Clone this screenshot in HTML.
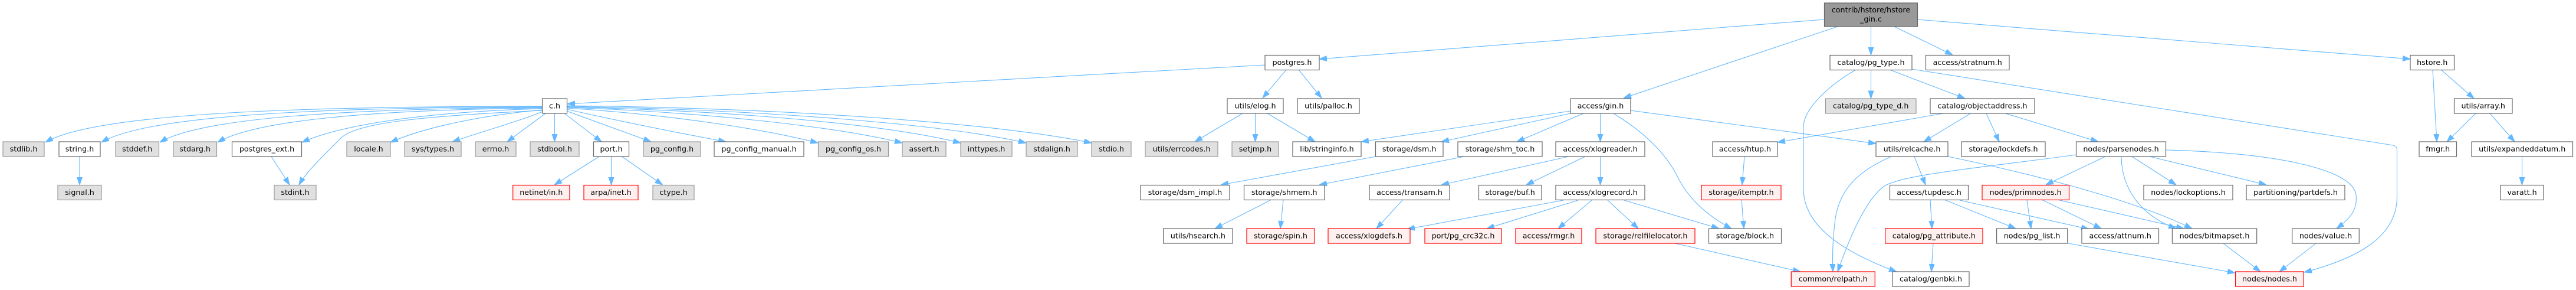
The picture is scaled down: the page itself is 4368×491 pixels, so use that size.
<!DOCTYPE html>
<html><head><meta charset="utf-8">
<style>
html,body{margin:0;padding:0;background:#fff;}
svg{display:block;}
text{font-family:"DejaVu Sans","Liberation Sans",sans-serif;font-size:12.7px;fill:#000;text-anchor:middle;}
.w{fill:#fff;stroke:#666;stroke-width:1.2;}
.g{fill:#e0e0e0;stroke:#999;stroke-width:1.2;}
.r{fill:#fff0f0;stroke:#f00;stroke-width:1.2;}
.t{fill:#999;stroke:#666;stroke-width:1.2;}
.e path{fill:none;stroke:#63b8ff;stroke-width:1.1;marker-end:url(#ah);}
</style></head>
<body>
<svg width="4368" height="491" viewBox="0 0 4368 491" xmlns="http://www.w3.org/2000/svg">
<defs>
<marker id="ah" markerUnits="userSpaceOnUse" markerWidth="13" markerHeight="10" refX="13" refY="5" orient="auto">
<path d="M0,0.5 L13,5 L0,9.5 z" fill="#63b8ff" stroke="#63b8ff" stroke-width="1"/>
</marker>
</defs>
<rect width="4368" height="491" fill="#fff"/>
<g class="e">
<path d="M3093,33 L2237,100"/>
<path d="M3116,45 L2753,166"/>
<path d="M3172.5,45 L3172.5,93"/>
<path d="M3212,45 L3311,93"/>
<path d="M3251,33 L4087,100"/>
<path d="M2145,110 L962,176"/>
<path d="M2181,118 L2141,166"/>
<path d="M2202,118 L2241,166"/>
<path d="M919,180 C500,180 160,192 77,241"/>
<path d="M919,181 C540,182 250,195 172,241"/>
<path d="M919,182 C580,184 340,200 271,241"/>
<path d="M919,183 C620,186 430,205 369,241"/>
<path d="M919,184 C700,190 570,215 512,241"/>
<path d="M919,187 C750,195 610,205 580,232 C550,262 520,290 507,313"/>
<path d="M919,186 C820,195 720,215 662,241"/>
<path d="M920,189 C880,205 820,222 767,240"/>
<path d="M925,192 L860,240"/>
<path d="M940.5,192 L940.5,240"/>
<path d="M957,192 L1020,240"/>
<path d="M961,188 L1104,240"/>
<path d="M961,185 C1050,205 1150,225 1231,240"/>
<path d="M961,183 C1150,195 1300,220 1387,242"/>
<path d="M961,182 C1200,190 1420,215 1530,242"/>
<path d="M961,181 C1250,188 1500,210 1629,242"/>
<path d="M961,180 C1300,186 1600,210 1740,242"/>
<path d="M961,179 C1350,183 1700,210 1851,242"/>
<path d="M135,265 L135,313"/>
<path d="M460,265 L491,313"/>
<path d="M1016,265 L940,313"/>
<path d="M1036.5,265 L1036.5,313"/>
<path d="M1054.5,265 L1123.5,313"/>
<path d="M2107,192 L2026,240"/>
<path d="M2128.5,192 L2128.5,240"/>
<path d="M2149,192 L2230,240"/>
<path d="M2663,188 L2308,240"/>
<path d="M2663,192 L2444,240"/>
<path d="M2685,192 L2572,240"/>
<path d="M2713.5,192 L2713.5,240"/>
<path d="M2737,193 C2790,225 2825,260 2845,300 C2865,340 2900,368 2936,387"/>
<path d="M2765,187 L3181,243"/>
<path d="M2333,265 L2070,313"/>
<path d="M2483,265 L2237,313"/>
<path d="M2154,339 L2060,387"/>
<path d="M2176,339 L2171,387"/>
<path d="M2660,265 L2444,313"/>
<path d="M2688,265 L2588,313"/>
<path d="M2713.5,265 L2713.5,313"/>
<path d="M2378,339 L2334,387"/>
<path d="M2651,339 L2386,388"/>
<path d="M2676,339 L2521,387"/>
<path d="M2699,339 L2642,387"/>
<path d="M2726,339 L2778,387"/>
<path d="M2754,339 L2915,387"/>
<path d="M2840,412 L3053,460"/>
<path d="M3172.5,118 L3172.5,166.7"/>
<path d="M3204,118 L3332,166.7"/>
<path d="M3147,118 C3100,145 3058,185 3058,215 L3058,320 C3058,380 3120,425 3216,460"/>
<path d="M3242,117 L4058,246 C4062,247 4064.5,249 4064.5,254 L4064.5,333 C4064.5,400 4000,437 3907,461"/>
<path d="M3295,192 L3014,241"/>
<path d="M3341.5,192 L3262,240"/>
<path d="M3368,192 L3390,240"/>
<path d="M3400.5,192 L3558,240"/>
<path d="M2958,265 L2954,313"/>
<path d="M2953,338 L2957,387"/>
<path d="M3207,265 C3150,290 3120,320 3112,370 C3107,410 3107,440 3108,460"/>
<path d="M3246,265 L3265,313"/>
<path d="M3303,265 C3400,285 3600,330 3717,387"/>
<path d="M3521,262 C3350,285 3230,295 3195,315 C3160,340 3130,420 3116,460"/>
<path d="M3570,265 L3469,313"/>
<path d="M3597,266 C3598,320 3630,365 3690,387"/>
<path d="M3615,265 L3690,313"/>
<path d="M3645,265 L3843,313"/>
<path d="M3672,254 C3850,258 3990,285 3995,330 C3998,355 3985,370 3962,387"/>
<path d="M3273,339 L3276,387"/>
<path d="M3299,339 L3418,387"/>
<path d="M3323,339 L3542,388"/>
<path d="M3437,339 L3444,387"/>
<path d="M3462,338 L3563,387"/>
<path d="M3488,338 L3703,387"/>
<path d="M3278,412 L3275,460"/>
<path d="M3507,412 L3790,462"/>
<path d="M3770,412 L3833,460"/>
<path d="M3927,412 L3865,460"/>
<path d="M4125,118 L4132,240"/>
<path d="M4139,118 L4195,166.7"/>
<path d="M4198,192 L4149,240"/>
<path d="M4222,192 L4264,240"/>
<path d="M4276.5,265 L4276.5,313"/>
</g>

<!-- Row 0 -->
<rect class="t" x="3093.5" y="5" width="158" height="40"/>
<text x="3172.5" y="21">contrib/hstore/hstore</text>
<text x="3172.5" y="36.5">_gin.c</text>

<!-- Row 1 -->
<rect class="w" x="2145" y="93.5" width="92" height="25"/><text x="2191" y="110">postgres.h</text>
<rect class="w" x="3103" y="93.5" width="139" height="25"/><text x="3172.5" y="110">catalog/pg_type.h</text>
<rect class="w" x="3265.5" y="93.5" width="141.5" height="25"/><text x="3336.2" y="110">access/stratnum.h</text>
<rect class="w" x="4087" y="93.5" width="74.5" height="25"/><text x="4124.2" y="110">hstore.h</text>

<!-- Row 2 -->
<rect class="w" x="919.5" y="167" width="42" height="25"/><text x="940.5" y="183.5">c.h</text>
<rect class="w" x="2081" y="167" width="95" height="25"/><text x="2128.5" y="183.5">utils/elog.h</text>
<rect class="w" x="2200" y="167" width="105" height="25"/><text x="2252.5" y="183.5">utils/palloc.h</text>
<rect class="w" x="2663" y="167" width="102" height="25"/><text x="2714" y="183.5">access/gin.h</text>
<rect class="g" x="3095.5" y="167" width="153.5" height="25"/><text x="3172.2" y="183.5">catalog/pg_type_d.h</text>
<rect class="w" x="3273" y="167" width="177" height="25"/><text x="3361.5" y="183.5">catalog/objectaddress.h</text>
<rect class="w" x="4161.5" y="167" width="98.5" height="25"/><text x="4210.7" y="183.5">utils/array.h</text>

<!-- Row 3 -->
<rect class="g" x="5" y="240" width="70" height="25"/><text x="40" y="256.5">stdlib.h</text>
<rect class="w" x="100" y="240" width="70" height="25"/><text x="135" y="256.5">string.h</text>
<rect class="g" x="196" y="240" width="73.5" height="25"/><text x="232.7" y="256.5">stddef.h</text>
<rect class="g" x="294" y="240" width="73.5" height="25"/><text x="330.7" y="256.5">stdarg.h</text>
<rect class="w" x="393.5" y="240" width="118" height="25"/><text x="452.5" y="256.5">postgres_ext.h</text>
<rect class="g" x="588" y="240" width="74" height="25"/><text x="625" y="256.5">locale.h</text>
<rect class="g" x="686" y="240" width="96" height="25"/><text x="734" y="256.5">sys/types.h</text>
<rect class="g" x="806" y="240" width="69" height="25"/><text x="840.5" y="256.5">errno.h</text>
<rect class="g" x="899" y="240" width="83" height="25"/><text x="940.5" y="256.5">stdbool.h</text>
<rect class="w" x="1006.5" y="240" width="60" height="25"/><text x="1036.5" y="256.5">port.h</text>
<rect class="g" x="1091" y="240" width="97" height="25"/><text x="1139.5" y="256.5">pg_config.h</text>
<rect class="w" x="1211" y="240" width="152" height="25"/><text x="1287" y="256.5">pg_config_manual.h</text>
<rect class="g" x="1387.5" y="240" width="119" height="25"/><text x="1447" y="256.5">pg_config_os.h</text>
<rect class="g" x="1530" y="240" width="74" height="25"/><text x="1567" y="256.5">assert.h</text>
<rect class="g" x="1629" y="240" width="87" height="25"/><text x="1672.5" y="256.5">inttypes.h</text>
<rect class="g" x="1740" y="240" width="87" height="25"/><text x="1783.5" y="256.5">stdalign.h</text>
<rect class="g" x="1851" y="240" width="67" height="25"/><text x="1884.5" y="256.5">stdio.h</text>
<rect class="g" x="1942" y="240" width="123" height="25"/><text x="2003.5" y="256.5">utils/errcodes.h</text>
<rect class="g" x="2089" y="240" width="79" height="25"/><text x="2128.5" y="256.5">setjmp.h</text>
<rect class="w" x="2192" y="240" width="116" height="25"/><text x="2250" y="256.5">lib/stringinfo.h</text>
<rect class="w" x="2332.5" y="240" width="114.5" height="25"/><text x="2389.7" y="256.5">storage/dsm.h</text>
<rect class="w" x="2472" y="240" width="143" height="25"/><text x="2543.5" y="256.5">storage/shm_toc.h</text>
<rect class="w" x="2638" y="240" width="151" height="25"/><text x="2713.5" y="256.5">access/xlogreader.h</text>
<rect class="w" x="2904" y="240" width="110" height="25"/><text x="2959" y="256.5">access/htup.h</text>
<rect class="w" x="3181" y="240" width="122" height="25"/><text x="3242" y="256.5">utils/relcache.h</text>
<rect class="w" x="3326" y="240" width="142" height="25"/><text x="3397" y="256.5">storage/lockdefs.h</text>
<rect class="w" x="3520.5" y="240" width="152" height="25"/><text x="3596.5" y="256.5">nodes/parsenodes.h</text>
<rect class="w" x="4102" y="240" width="63.5" height="25"/><text x="4133.7" y="256.5">fmgr.h</text>
<rect class="w" x="4191" y="240" width="171.5" height="25"/><text x="4276.7" y="256.5">utils/expandeddatum.h</text>

<!-- Row 4 -->
<rect class="g" x="98" y="313.5" width="74" height="25"/><text x="135" y="330">signal.h</text>
<rect class="g" x="465" y="313.5" width="71" height="25"/><text x="500.5" y="330">stdint.h</text>
<rect class="r" x="869.7" y="313.5" width="96.3" height="25"/><text x="917.8" y="330">netinet/in.h</text>
<rect class="r" x="990" y="313.5" width="92" height="25"/><text x="1036" y="330">arpa/inet.h</text>
<rect class="g" x="1107" y="313.5" width="70" height="25"/><text x="1142" y="330">ctype.h</text>
<rect class="w" x="1934" y="313.5" width="151" height="25"/><text x="2009.5" y="330">storage/dsm_impl.h</text>
<rect class="w" x="2109.5" y="313.5" width="136.5" height="25"/><text x="2177.7" y="330">storage/shmem.h</text>
<rect class="w" x="2322" y="313.5" width="136" height="25"/><text x="2390" y="330">access/transam.h</text>
<rect class="w" x="2507.5" y="313.5" width="106.5" height="25"/><text x="2560.7" y="330">storage/buf.h</text>
<rect class="w" x="2638" y="313.5" width="151" height="25"/><text x="2713.5" y="330">access/xlogrecord.h</text>
<rect class="r" x="2885" y="313.5" width="135" height="25"/><text x="2952.5" y="330">storage/itemptr.h</text>
<rect class="w" x="3204.5" y="313.5" width="133" height="25"/><text x="3271" y="330">access/tupdesc.h</text>
<rect class="r" x="3361" y="313.5" width="147.5" height="25"/><text x="3434.7" y="330">nodes/primnodes.h</text>
<rect class="w" x="3635" y="313.5" width="151" height="25"/><text x="3710.5" y="330">nodes/lockoptions.h</text>
<rect class="w" x="3809" y="313.5" width="167" height="25"/><text x="3892.5" y="330">partitioning/partdefs.h</text>
<rect class="w" x="4240" y="313.5" width="73" height="25"/><text x="4276.5" y="330">varatt.h</text>

<!-- Row 5 -->
<rect class="w" x="1972.6" y="387" width="117.4" height="25"/><text x="2031.3" y="403.5">utils/hsearch.h</text>
<rect class="r" x="2114" y="387" width="115" height="25"/><text x="2171.5" y="403.5">storage/spin.h</text>
<rect class="r" x="2252" y="387" width="139" height="25"/><text x="2321.5" y="403.5">access/xlogdefs.h</text>
<rect class="r" x="2416" y="387" width="130" height="25"/><text x="2481" y="403.5">port/pg_crc32c.h</text>
<rect class="r" x="2570" y="387" width="112" height="25"/><text x="2626" y="403.5">access/rmgr.h</text>
<rect class="r" x="2706" y="387" width="168" height="25"/><text x="2790" y="403.5">storage/relfilelocator.h</text>
<rect class="w" x="2897.5" y="387" width="123" height="25"/><text x="2959" y="403.5">storage/block.h</text>
<rect class="r" x="3196.6" y="387" width="165.4" height="25"/><text x="3279.3" y="403.5">catalog/pg_attribute.h</text>
<rect class="w" x="3385.6" y="387" width="120.1" height="25"/><text x="3445.6" y="403.5">nodes/pg_list.h</text>
<rect class="w" x="3530" y="387" width="130.5" height="25"/><text x="3595.2" y="403.5">access/attnum.h</text>
<rect class="w" x="3683.4" y="387" width="143.3" height="25"/><text x="3755" y="403.5">nodes/bitmapset.h</text>
<rect class="w" x="3886.7" y="387" width="113.6" height="25"/><text x="3943.5" y="403.5">nodes/value.h</text>

<!-- Row 6 -->
<rect class="r" x="3037.3" y="460" width="142" height="25"/><text x="3108.3" y="476.5">common/relpath.h</text>
<rect class="w" x="3209" y="460" width="130" height="25"/><text x="3274" y="476.5">catalog/genbki.h</text>
<rect class="r" x="3790.6" y="460" width="115.8" height="25"/><text x="3848.5" y="476.5">nodes/nodes.h</text>
</svg>
</body></html>
